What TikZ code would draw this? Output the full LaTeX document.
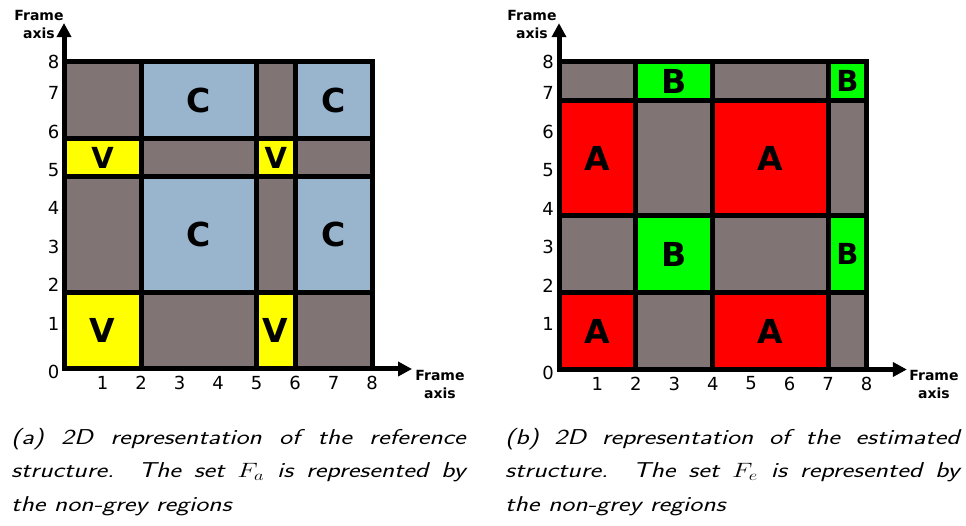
\documentclass[tikz,border=0pt]{standalone}
\usepackage{graphicx}
\usepackage{fontspec}
\newfontfamily\djv{DejaVu Sans}
\usetikzlibrary{arrows.meta}

\definecolor{cellgrey}{RGB}{128,116,116}
\definecolor{cellblue}{RGB}{153,180,205}
\definecolor{cellyellow}{RGB}{255,255,0}
\definecolor{cellred}{RGB}{255,0,0}
\definecolor{cellgreen}{RGB}{0,255,0}

\tikzset{
  gridline/.style={line width=5pt, line join=miter},
  axisline/.style={line width=5pt, line join=miter,
    {Triangle[length=14pt,width=14pt]}-{Triangle[length=14pt,width=14pt]}},
  ticklabel/.style={font=\djv\fontsize{18}{18}\selectfont, inner sep=0pt},
  axislabel/.style={font=\djv\bfseries\fontsize{14}{18}\selectfont,
    align=center, inner sep=0pt, anchor=north},
  celltext/.style={font=\djv\bfseries\fontsize{33}{33}\selectfont, inner sep=0pt},
  celltextsmall/.style={font=\djv\bfseries\fontsize{29}{29}\selectfont, inner sep=0pt},
  captiontext/.style={font=\sffamily\slshape\fontsize{21.5}{33.5}\selectfont,
    inner sep=0pt, anchor=base west},
}

\begin{document}
\begin{tikzpicture}[x=1pt,y=1pt]
\useasboundingbox (0,0) rectangle (966,525);

% ---------- reference structure ----------
\begin{scope}[shift={(64pt,156pt)}, x=38.5pt, y=38.4pt]
  \fill[cellgrey] (0,0) rectangle (8,8);
  \foreach \xa/\xb/\ya/\yb in {2/5/6/8, 6/8/6/8, 2/5/2/5, 6/8/2/5}
    \fill[cellblue] (\xa,\ya) rectangle (\xb,\yb);
  \foreach \xa/\xb/\ya/\yb in {0/2/5/6, 5/6/5/6, 0/2/0/2, 5/6/0/2}
    \fill[cellyellow] (\xa,\ya) rectangle (\xb,\yb);
  \foreach \v in {2,5,6}
    \draw[gridline] (\v,0) -- (\v,8);
  \foreach \v in {2,5,6}
    \draw[gridline] (0,\v) -- (8,\v);
  \draw[gridline] (0,0) rectangle (8,8);
  \draw[axisline] (0,9.01) -- (0,0) -- (9.04,0);

  \node[celltext] (ca1) at (3.5,7) {C};
  \node[celltext] (ca2) at (7,7) {C};
  \node[celltext] (ca3) at (3.5,3.5) {C};
  \node[celltext] (ca4) at (7,3.5) {C};
  \node[celltextsmall] (va1) at (1,5.5) {V};
  \node[celltextsmall] (va2) at (5.5,5.5) {V};
  \node[celltext] (va3) at (1,1) {V};
  \node[celltext] (va4) at (5.5,1) {V};

  \foreach \k in {1,...,8}
    \node[ticklabel, yshift=-14pt] (ax\k) at (\k,0) {\k};
  \node[ticklabel, xshift=-10.5pt, yshift=-3pt] (ay0) at (0,0) {0};
  \foreach \k in {1,...,7}
    \node[ticklabel, xshift=-10.5pt, yshift=7pt] (ay\k) at (0,\k) {\k};
  \node[ticklabel, xshift=-10.5pt] (ay8) at (0,8) {8};
\end{scope}
\node[axislabel] (afy) at (39,515) {Frame\\axis};
\node[axislabel] (afx) at (440,155) {Frame\\axis};

% ---------- estimated structure ----------
\begin{scope}[shift={(559pt,155.5pt)}, x=38.44pt, y=38.44pt]
  \fill[cellgrey] (0,0) rectangle (8,8);
  \foreach \xa/\xb/\ya/\yb in {0/2/4/7, 4/7/4/7, 0/2/0/2, 4/7/0/2}
    \fill[cellred] (\xa,\ya) rectangle (\xb,\yb);
  \foreach \xa/\xb/\ya/\yb in {2/4/7/8, 7/8/7/8, 2/4/2/4, 7/8/2/4}
    \fill[cellgreen] (\xa,\ya) rectangle (\xb,\yb);
  \foreach \v in {2,4,7}
    \draw[gridline] (\v,0) -- (\v,8);
  \foreach \v in {2,4,7}
    \draw[gridline] (0,\v) -- (8,\v);
  \draw[gridline] (0,0) rectangle (8,8);
  \draw[axisline] (0,9.01) -- (0,0) -- (9.05,0);

  \node[celltext] (ab1) at (1,5.5) {A};
  \node[celltext] (ab2) at (5.5,5.5) {A};
  \node[celltext] (ab3) at (1,1) {A};
  \node[celltext] (ab4) at (5.5,1) {A};
  \node[celltext] (bb1) at (3,7.5) {B};
  \node[celltextsmall] (bb2) at (7.5,7.5) {B};
  \node[celltext] (bb3) at (3,3) {B};
  \node[celltextsmall] (bb4) at (7.5,3) {B};

  \foreach \k in {1,...,8}
    \node[ticklabel, yshift=-14pt] (bx\k) at (\k,0) {\k};
  \node[ticklabel, xshift=-11pt, yshift=-3pt] (by0) at (0,0) {0};
  \foreach \k in {1,...,7}
    \node[ticklabel, xshift=-11pt, yshift=7pt] (by\k) at (0,\k) {\k};
  \node[ticklabel, xshift=-11pt] (by8) at (0,8) {8};
\end{scope}
\node[axislabel] (bfy) at (532,515) {Frame\\axis};
\node[axislabel] (bfx) at (934,155) {Frame\\axis};

% ---------- captions ----------
\node[captiontext] (capa) at (11,81) {\scalebox{1.28}[1]{\parbox[t]{355pt}{%
  (a) 2D representation of the reference\linebreak
  structure. The set $F_a$ is represented by\linebreak
  the non-grey regions}}};
\node[captiontext] (capb) at (505,81) {\scalebox{1.28}[1]{\parbox[t]{355pt}{%
  (b) 2D representation of the estimated\linebreak
  structure. The set $F_e$ is represented by\linebreak
  the non-grey regions}}};
\end{tikzpicture}
\end{document}
